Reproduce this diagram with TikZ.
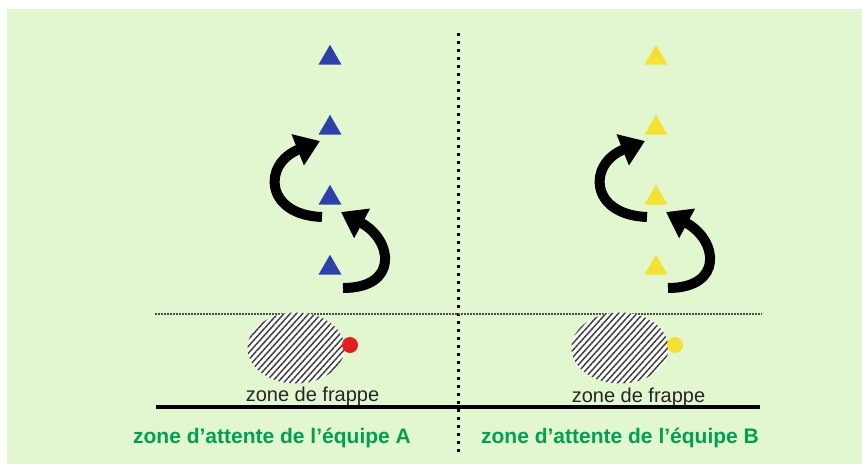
\documentclass[tikz,border=0pt]{standalone}
\usepackage{fontspec}
\setmainfont{Liberation Sans}
\usetikzlibrary{arrows.meta,shapes.geometric,patterns.meta}
\definecolor{fieldgreen}{RGB}{226,247,208}
\definecolor{teamblue}{RGB}{45,65,170}
\definecolor{teamyellow}{RGB}{245,225,50}
\definecolor{ballred}{RGB}{228,30,30}
\definecolor{textgreen}{RGB}{0,160,80}

\begin{document}
\begin{tikzpicture}[x=1pt,y=-1pt,
  cone/.style={regular polygon,regular polygon sides=3,inner sep=0pt,minimum size=26.5pt},
  ball/.style={circle,inner sep=0pt,minimum size=16pt},
  zone/.style={ellipse,inner sep=0pt,minimum width=97pt,minimum height=71pt,
    preaction={fill=white},pattern={Lines[angle=48,distance=4.6pt,line width=1.5pt]},pattern color=black!75},
  turn/.style={line width=10pt,-{Triangle[length=24pt,width=32pt]}},
  label/.style={font=\fontsize{20}{24}\selectfont,text=black!85,anchor=base,inner sep=0pt},
  team/.style={font=\fontsize{21}{25}\selectfont\bfseries,text=textgreen,anchor=base,inner sep=0pt}]

	\fill[fieldgreen] (7,9) rectangle (862,464);
	\useasboundingbox (0,0) rectangle (862,464);

	% field lines
	\draw[line width=3pt,dash pattern=on 3pt off 5pt] (458,33) -- (458,456);
	\draw[line width=1.8pt,black!70,dash pattern=on 1.5pt off 1.5pt] (155,314) -- (762,314);
	\draw[line width=4pt] (156,407) -- (760,407);

	% cones
	\foreach \i/\yy in {1/58,2/128,3/198,4/268} {
		\node[cone,fill=teamblue] (coneA\i) at (330,\yy) {};
		\node[cone,fill=teamyellow] (coneB\i) at (656,\yy) {};
	}

	% turning arrows
	\foreach \s/\dx in {A/0,B/325} {
		\begin{scope}[xshift=\dx]
			\coordinate (upper\s) at (322,217);
			\coordinate (upperTip\s) at (320,141);
			\coordinate (lower\s) at (343,288);
			\coordinate (lowerTip\s) at (341,212);
			\draw[turn] (upper\s) .. controls (265,215) and (262,164) .. (upperTip\s);
			\draw[turn] (lower\s) .. controls (399,288) and (393,240) .. (lowerTip\s);
		\end{scope}
	}

	% striking zones
	\node[zone] (zoneA) at (296,348) {};
	\node[zone] (zoneB) at (620,348) {};
	\node[ball,fill=ballred] (ballA) at (350,345) {};
	\node[ball,fill=teamyellow] (ballB) at (675,345) {};
	\node[label] (frappeA) at (312.5,401) {zone de frappe};
	\node[label] (frappeB) at (638.5,402) {zone de frappe};

	% waiting zones
	\node[team] (waitA) at (272,443) {zone d’attente de l’équipe A};
	\node[team] (waitB) at (620,443) {zone d’attente de l’équipe B};
\end{tikzpicture}
\end{document}
